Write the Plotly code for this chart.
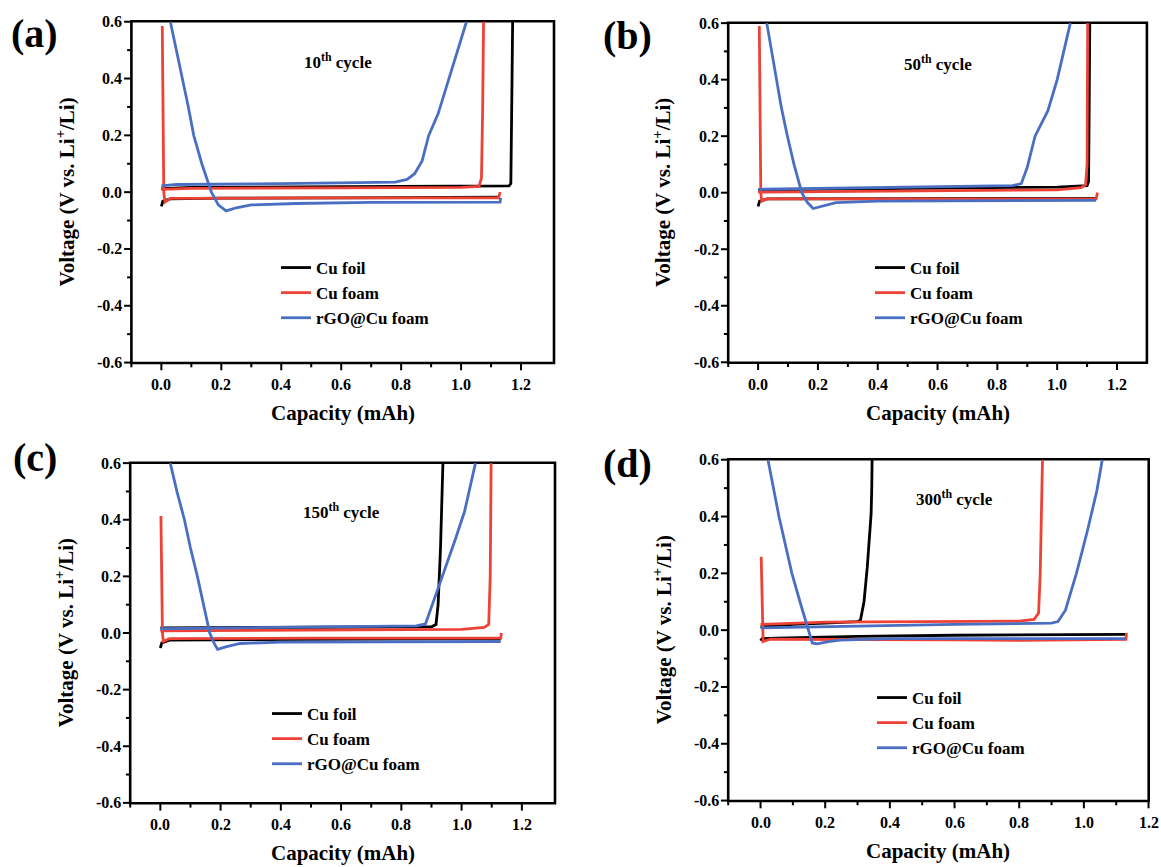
import plotly.graph_objects as go

W, H = 1161, 867
N = None

# ---------------- data (capacity mAh, voltage V) ----------------
a_foil_x = [0, 0.005, 0.03, 0.2, 0.6, 1.0, 1.13, N, 0, 0.1, 0.6, 1.0, 1.16, 1.166, 1.168, 1.17, 1.172]
a_foil_y = [-0.05, -0.032, -0.024, -0.021, -0.02, -0.02, -0.018, N, 0.012, 0.017, 0.019, 0.02, 0.022, 0.03, 0.15, 0.4, 0.6]
a_foam_x = [0.003, 0.005, 0.008, 0.012, 0.03, 0.5, 1.0, 1.125, 1.13, N, 0, 0.1, 0.6, 1.0, 1.06, 1.068, 1.072, 1.075]
a_foam_y = [0.585, 0.3, 0.0, -0.035, -0.022, -0.02, -0.02, -0.02, 0.0, N, 0.01, 0.013, 0.015, 0.017, 0.02, 0.05, 0.3, 0.6]
a_rgo_x = [0.03, 0.05, 0.072, 0.09, 0.108, 0.135, 0.167, 0.19, 0.216, 0.25, 0.3, 0.45, 0.7, 1.0, 1.13, 1.132,
           N, 0, 0.05, 0.4, 0.78, 0.82, 0.845, 0.87, 0.892, 0.923, 0.96, 0.99, 1.018]
a_rgo_y = [0.6, 0.5, 0.4, 0.3, 0.2, 0.1, 0.0, -0.045, -0.066, -0.055, -0.045, -0.04, -0.036, -0.035, -0.035, -0.02,
           N, 0.022, 0.027, 0.03, 0.035, 0.045, 0.065, 0.11, 0.2, 0.275, 0.4, 0.5, 0.6]

b_foil_x = [0, 0.005, 0.03, 0.6, 1.13, N, 0, 0.5, 1.0, 1.1, 1.105, 1.107, 1.109]
b_foil_y = [-0.048, -0.03, -0.022, -0.02, -0.02, N, 0.01, 0.015, 0.02, 0.025, 0.04, 0.3, 0.6]
b_foam_x = [0.004, 0.006, 0.009, 0.012, 0.03, 0.5, 1.0, 1.13, 1.135, N, 0, 0.5, 1.0, 1.08, 1.095, 1.1, 1.102]
b_foam_y = [0.59, 0.3, 0.0, -0.03, -0.022, -0.022, -0.022, -0.022, 0.0, N, 0.002, 0.005, 0.01, 0.018, 0.028, 0.1, 0.6]
b_rgo_x = [0.029, 0.045, 0.06, 0.078, 0.098, 0.12, 0.146, 0.165, 0.184, 0.22, 0.26, 0.4, 0.8, 1.13,
           N, 0, 0.3, 0.6, 0.85, 0.88, 0.9, 0.926, 0.969, 1.0, 1.044]
b_rgo_y = [0.6, 0.5, 0.4, 0.3, 0.2, 0.1, 0.0, -0.035, -0.056, -0.045, -0.035, -0.03, -0.028, -0.027,
           N, 0.012, 0.017, 0.02, 0.025, 0.032, 0.09, 0.2, 0.29, 0.4, 0.6]

c_foil_x = [0, 0.005, 0.03, 0.5, 1.0, 1.13, N, 0, 0.5, 0.9, 0.915, 0.922, 0.93, 0.935, 0.938]
c_foil_y = [-0.053, -0.035, -0.025, -0.023, -0.022, -0.02, N, 0.018, 0.02, 0.022, 0.03, 0.1, 0.3, 0.45, 0.6]
c_foam_x = [0.002, 0.004, 0.007, 0.01, 0.03, 0.5, 1.0, 1.13, 1.132, N, 0, 0.5, 1.0, 1.075, 1.09, 1.095, 1.098]
c_foam_y = [0.413, 0.2, 0.0, -0.03, -0.02, -0.018, -0.018, -0.018, 0.0, N, 0.008, 0.01, 0.013, 0.02, 0.03, 0.2, 0.6]
c_rgo_x = [0.033, 0.055, 0.08, 0.1, 0.123, 0.143, 0.164, 0.178, 0.19, 0.22, 0.265, 0.4, 0.8, 1.13,
           N, 0, 0.3, 0.6, 0.85, 0.88, 0.905, 0.936, 0.979, 1.01, 1.046]
c_rgo_y = [0.6, 0.5, 0.4, 0.3, 0.2, 0.1, 0.0, -0.035, -0.058, -0.048, -0.037, -0.032, -0.03, -0.03,
           N, 0.015, 0.018, 0.02, 0.025, 0.032, 0.105, 0.2, 0.33, 0.43, 0.6]

d_foil_x = [0, 0.005, 0.05, 0.3, 0.6, 1.0, 1.13, N, 0, 0.1, 0.2, 0.3, 0.309, 0.32, 0.33, 0.34, 0.342, 0.344, 0.345]
d_foil_y = [-0.037, -0.03, -0.028, -0.022, -0.018, -0.016, -0.015, N, 0.012, 0.02, 0.025, 0.03, 0.035, 0.1, 0.22, 0.38, 0.41, 0.5, 0.6]
d_foam_x = [0.002, 0.004, 0.006, 0.008, 0.03, 0.3, 0.6, 0.8, 1.0, 1.13, 1.132, N, 0, 0.2, 0.5, 0.8, 0.846, 0.86, 0.865, 0.869, 0.872]
d_foam_y = [0.258, 0.1, -0.02, -0.04, -0.032, -0.032, -0.034, -0.036, -0.034, -0.032, -0.01, N, 0.02, 0.028, 0.03, 0.032, 0.038, 0.06, 0.2, 0.45, 0.6]
d_rgo_x = [0.023, 0.04, 0.057, 0.077, 0.097, 0.122, 0.149, 0.16, 0.175, 0.21, 0.246, 0.4, 0.8, 1.13,
           N, 0, 0.3, 0.6, 0.9, 0.92, 0.943, 0.977, 1.011, 1.04, 1.057]
d_rgo_y = [0.6, 0.5, 0.4, 0.3, 0.2, 0.1, 0.0, -0.045, -0.048, -0.04, -0.035, -0.03, -0.03, -0.03,
           N, 0.008, 0.015, 0.02, 0.025, 0.03, 0.07, 0.2, 0.35, 0.49, 0.6]

series_names = ["Cu foil", "Cu foam", "rGO@Cu foam"]
series_colors = ["#000000", "#ee4236", "#4a6fc2"]
panel_labels = ["(a)", "(b)", "(c)", "(d)"]
cycle_labels = ["10<sup>th</sup> cycle", "50<sup>th</sup> cycle", "150<sup>th</sup> cycle", "300<sup>th</sup> cycle"]
x_title = "Capacity (mAh)"
y_title = "Voltage (V vs. Li<sup>+</sup>/Li)"
x_ticks = [0.0, 0.2, 0.4, 0.6, 0.8, 1.0, 1.2]
y_ticks = [-0.6, -0.4, -0.2, 0.0, 0.2, 0.4, 0.6]
x_minor = [-0.1, 0.1, 0.3, 0.5, 0.7, 0.9, 1.1]
y_minor = [-0.5, -0.3, -0.1, 0.1, 0.3, 0.5]

panels = [
    [(a_foil_x, a_foil_y), (a_foam_x, a_foam_y), (a_rgo_x, a_rgo_y)],
    [(b_foil_x, b_foil_y), (b_foam_x, b_foam_y), (b_rgo_x, b_rgo_y)],
    [(c_foil_x, c_foil_y), (c_foam_x, c_foam_y), (c_rgo_x, c_rgo_y)],
    [(d_foil_x, d_foil_y), (d_foam_x, d_foam_y), (d_rgo_x, d_rgo_y)],
]

frames = [  # left, right, top, bottom (pixels)
    (131.4, 554.0, 21.3, 363.0),
    (728.2, 1146.9, 22.7, 362.7),
    (130.2, 555.0, 462.7, 803.3),
    (728.2, 1148.7, 459.3, 801.0),
]
x_ranges = [[-0.1, 1.31], [-0.1, 1.30], [-0.1, 1.31], [-0.1, 1.2005]]
y_range = [-0.6015, 0.6015]
cycle_pos = [(0.59, 0.46), (0.6, 0.46), (0.6, 0.43), (0.6, 0.465)]
label_pos = [(34, 33), (627, 35), (35, 458), (627, 463)]
legend_pos = [(276, 250), (870, 250), (267, 696), (872, 680)]

FONT = "Liberation Serif"
INK = "#000000"
MAJOR_LEN, MINOR_LEN, AX_W = 6, 3, 2.6


def px(x):
    return x / W


def py(y):
    return 1 - y / H


def to_px_x(v, i):
    l, r, _, _ = frames[i]
    lo, hi = x_ranges[i]
    return l + (v - lo) / (hi - lo) * (r - l)


def to_px_y(v, i):
    _, _, t, b = frames[i]
    lo, hi = y_range
    return b - (v - lo) / (hi - lo) * (b - t)


def bold(size):
    return dict(family=FONT, size=size, color=INK, weight="bold")


fig = go.Figure()
for i, panel in enumerate(panels):
    sfx = "" if i == 0 else str(i + 1)
    lg = "legend" if i == 0 else "legend%d" % (i + 1)
    for j, (xs, ys) in enumerate(panel):
        fig.add_trace(go.Scatter(
            x=xs, y=ys, mode="lines", name=series_names[j],
            line=dict(color=series_colors[j], width=2.8),
            xaxis="x" + sfx, yaxis="y" + sfx, legend=lg, connectgaps=False,
        ))

layout = dict(
    width=W, height=H, margin=dict(l=0, r=0, t=0, b=0),
    paper_bgcolor="#ffffff", plot_bgcolor="rgba(0,0,0,0)", showlegend=True,
    dragmode=False, hovermode=False,
    annotations=[], shapes=[],
)


def seg(x0, y0, x1, y1, w, layer="above"):
    return dict(type="line", xref="paper", yref="paper",
                x0=px(x0), x1=px(x1), y0=py(y0), y1=py(y1),
                line=dict(color=INK, width=w), layer=layer)


for i in range(4):
    sfx = "" if i == 0 else str(i + 1)
    xr, yr = "x" + sfx, "y" + sfx
    l, r, t, b = frames[i]
    layout["xaxis" + sfx] = dict(domain=[px(l), px(r)], range=x_ranges[i], anchor=yr,
                                 visible=False, fixedrange=True)
    layout["yaxis" + sfx] = dict(domain=[py(b), py(t)], range=y_range, anchor=xr,
                                 visible=False, fixedrange=True)
    hw = AX_W / 2
    # frame drawn as a filled black band (outer rect) with a transparent-looking inner area
    layout["shapes"].append(dict(type="rect", xref="paper", yref="paper",
                                 x0=px(l - hw), x1=px(r + hw), y0=py(b + hw), y1=py(t - hw),
                                 fillcolor=INK, line=dict(width=0), layer="below"))
    layout["shapes"].append(dict(type="rect", xref="paper", yref="paper",
                                 x0=px(l + hw), x1=px(r - hw), y0=py(b - hw), y1=py(t + hw),
                                 fillcolor="#ffffff", line=dict(width=0), layer="below"))
    # tick marks as filled thin rectangles
    for vals, ln in ((x_ticks, MAJOR_LEN), (x_minor, MINOR_LEN)):
        for v in vals:
            xp = to_px_x(v, i)
            layout["shapes"].append(dict(type="rect", xref="paper", yref="paper",
                                         x0=px(xp - 1), x1=px(xp + 1), y0=py(b + hw + ln), y1=py(b),
                                         fillcolor=INK, line=dict(width=0), layer="below"))
    for vals, ln in ((y_ticks, MAJOR_LEN), (y_minor, MINOR_LEN)):
        for v in vals:
            yp = to_px_y(v, i)
            layout["shapes"].append(dict(type="rect", xref="paper", yref="paper",
                                         x0=px(l - hw - ln), x1=px(l), y0=py(yp + 1), y1=py(yp - 1),
                                         fillcolor=INK, line=dict(width=0), layer="below"))
    for v in x_ticks:
        layout["annotations"].append(dict(
            text="%.1f" % v, x=v, xref=xr, y=py(b + 11), yref="paper",
            xanchor="center", yanchor="top", showarrow=False, font=bold(16)))
    for v in y_ticks:
        layout["annotations"].append(dict(
            text="%.1f" % v, x=px(l - 7), xref="paper", y=v, yref=yr,
            xanchor="right", yanchor="middle", showarrow=False, font=bold(16)))
    layout["annotations"].append(dict(
        text=x_title, x=px((l + r) / 2), y=py(b + 50), xref="paper", yref="paper",
        xanchor="center", yanchor="middle", showarrow=False, font=bold(21)))
    layout["annotations"].append(dict(
        text=y_title, x=px(l - 66), y=py((t + b) / 2), xref="paper", yref="paper",
        xanchor="center", yanchor="middle", textangle=-90, showarrow=False, font=bold(21)))
    lg = "legend" if i == 0 else "legend%d" % (i + 1)
    lx, ly = legend_pos[i]
    layout[lg] = dict(
        x=px(lx), y=py(ly), xanchor="left", yanchor="top",
        bgcolor="rgba(0,0,0,0)", borderwidth=0, font=bold(17),
    )
    cx, cy = cycle_pos[i]
    layout["annotations"].append(dict(
        text=cycle_labels[i], x=cx, y=cy, xref=xr, yref=yr,
        showarrow=False, font=bold(17)))
    lbx, lby = label_pos[i]
    layout["annotations"].append(dict(
        text=panel_labels[i], x=px(lbx), y=py(lby), xref="paper", yref="paper",
        xanchor="center", yanchor="middle", showarrow=False, font=bold(40)))

fig.update_layout(**layout)
fig.write_html("out.html", config={"staticPlot": True},
               post_script="document.body.style.margin='0px';")
